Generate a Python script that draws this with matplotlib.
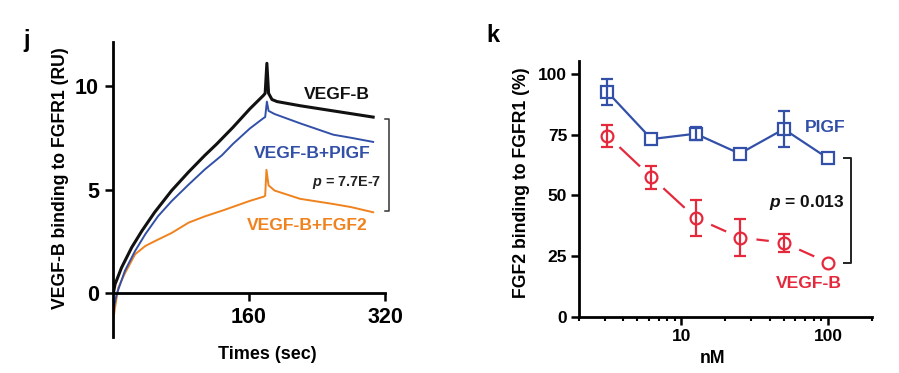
import matplotlib
matplotlib.use("Agg")
import matplotlib.pyplot as plt
import numpy as np

plt.rcParams['font.family'] = ['Liberation Sans', 'DejaVu Sans']
plt.rcParams['font.weight'] = 'bold'
plt.rcParams['mathtext.fontset'] = 'custom'
plt.rcParams['mathtext.rm'] = 'Liberation Sans'
plt.rcParams['mathtext.it'] = 'Liberation Sans:italic'
plt.rcParams['mathtext.bf'] = 'Liberation Sans:bold'
plt.rcParams['mathtext.bfit'] = 'Liberation Sans:italic:bold'

# panel j: SPR sensorgrams (time in sec, response in RU)
t_vegfb = [0, 2.4, 10, 22, 34, 49, 69, 89, 108, 122, 141, 161, 177, 179, 181, 183, 187, 193, 220, 259, 306]
ru_vegfb = [-0.1, 0.42, 1.22, 2.2, 3.0, 3.9, 4.95, 5.85, 6.65, 7.2, 8.0, 8.9, 9.55, 9.65, 11.1, 9.65, 9.35, 9.25, 9.05, 8.8, 8.5]

t_pigf = [0, 2, 4.4, 14, 26, 38, 53, 69, 89, 108, 128, 141, 161, 177, 179, 181, 183, 190, 220, 259, 280, 306]
ru_pigf = [-1.05, -0.5, -0.05, 1.07, 2.03, 2.84, 3.71, 4.44, 5.24, 5.97, 6.65, 7.2, 7.95, 8.45, 8.5, 9.25, 8.8, 8.65, 8.2, 7.65, 7.5, 7.3]

t_fgf2 = [0, 2.4, 6.3, 14, 26, 38, 49, 69, 89, 108, 130, 161, 177, 179, 180.5, 183, 190, 220, 259, 280, 306]
ru_fgf2 = [-1.4, -0.7, 0.26, 0.95, 1.87, 2.27, 2.5, 2.9, 3.4, 3.7, 4.0, 4.45, 4.65, 4.7, 5.95, 5.2, 4.95, 4.55, 4.3, 4.15, 3.9]

# panel k: competition binding (0 = error bar hidden behind the marker)
conc = [3.125, 6.25, 12.5, 25, 50, 100]
pigf_mean = [92.6, 73.2, 75.4, 67.2, 77.3, 65.3]
pigf_err = [5.5, 0, 2.6, 0, 7.4, 0]
vegfb_mean = [74.6, 57.5, 40.8, 32.7, 30.6, 22.4]
vegfb_err = [4.5, 4.8, 7.4, 7.6, 3.7, 0]

black = '#111111'
blue = '#3350A8'
orange = '#F0821E'
red = '#E5293D'

fig = plt.figure(figsize=(8.99, 3.73), dpi=100)

# ---------- panel j ----------
ax1 = fig.add_axes([0.1257, 0.0965, 0.3026, 0.7909])
ax1.plot(t_fgf2, ru_fgf2, color=orange, lw=1.4)
ax1.plot(t_pigf, ru_pigf, color=blue, lw=1.4)
ax1.plot(t_vegfb, ru_vegfb, color=black, lw=2.2)
ax1.set_xlim(0, 320)
ax1.set_ylim(-2.13, 12.13)
ax1.spines['top'].set_visible(False)
ax1.spines['right'].set_visible(False)
ax1.spines['bottom'].set_position(('data', 0))
ax1.spines['bottom'].set_bounds(0, 320)
for s in ['left', 'bottom']:
    ax1.spines[s].set_linewidth(2)
ax1.set_xticks([160, 320])
ax1.set_yticks([0, 5, 10])
ax1.tick_params(direction='out', length=6, width=1.8, labelsize=15.5, pad=4)
ax1.set_ylabel('VEGF-B binding to FGFR1 (RU)', fontsize=12.7, fontweight='bold')
ax1.yaxis.set_label_coords(-0.16, 0.54)
ax1.set_xlabel('Times (sec)', fontsize=13, fontweight='bold')
ax1.xaxis.set_label_coords(0.566, -0.03)

ax1.text(263, 9.57, 'VEGF-B', color=black, fontsize=12.6, ha='center', va='center')
ax1.text(234, 6.76, 'VEGF-B+PIGF', color=blue, fontsize=12.6, ha='center', va='center')
ax1.text(229, 3.28, 'VEGF-B+FGF2', color=orange, fontsize=12.6, ha='center', va='center')
ax1.text(316, 5.36, r'$\bfit{p}$ = 7.7E-7', color='#222222', fontsize=10.4, ha='right', va='center')
ax1.plot([320, 325, 325, 320], [8.4, 8.4, 3.96, 3.96], color='#333333', lw=1.1, clip_on=False)

# ---------- panel k ----------
ax2 = fig.add_axes([0.644, 0.150, 0.326, 0.6864])
ax2.set_xscale('log')


def error_bars(ax, x, y, err, color, z):
    keep = [i for i, e in enumerate(err) if e > 0]
    ax.errorbar([x[i] for i in keep], [y[i] for i in keep], yerr=[err[i] for i in keep],
                fmt='none', ecolor=color, elinewidth=1.6, capsize=4, capthick=1.6, zorder=z)


ax2.plot(conc, vegfb_mean, color=red, lw=1.6, zorder=1)
ax2.plot(conc, vegfb_mean, linestyle='none', marker='o', ms=22, mfc='white', mec='white', zorder=2)
ax2.plot(conc, vegfb_mean, linestyle='none', marker='o', ms=8.5, mfc='white', mec=red, mew=1.6, zorder=3)
error_bars(ax2, conc, vegfb_mean, vegfb_err, red, 4)
ax2.plot(conc, pigf_mean, color=blue, lw=1.6, marker='s', ms=8.5, mfc='white', mec=blue, mew=1.6, zorder=5)
error_bars(ax2, conc, pigf_mean, pigf_err, blue, 6)
ax2.set_xlim(2, 200)
ax2.set_ylim(0, 105.3)
ax2.spines['top'].set_visible(False)
ax2.spines['right'].set_visible(False)
for s in ['left', 'bottom']:
    ax2.spines[s].set_linewidth(2)
ax2.set_yticks([0, 25, 50, 75, 100])
ax2.set_xticks([10, 100])
ax2.set_xticklabels(['10', '100'])
ax2.tick_params(which='major', direction='out', length=5.5, width=1.8, labelsize=12.5, pad=3)
ax2.tick_params(which='minor', direction='out', length=3, width=1.5)
ax2.set_ylabel('FGF2 binding to FGFR1 (%)', fontsize=12.7, fontweight='bold')
ax2.yaxis.set_label_coords(-0.167, 0.523)
ax2.set_xlabel('nM', fontsize=12.7, fontweight='bold')
ax2.xaxis.set_label_coords(0.457, -0.129)

ax2.text(95.8, 77.8, 'PIGF', color=blue, fontsize=12.6, ha='center', va='center')
ax2.text(74.5, 13.6, 'VEGF-B', color=red, fontsize=12.6, ha='center', va='center')
ax2.text(129, 47.3, r'$\bfit{p}$ = 0.013', color=black, fontsize=12.5, ha='right', va='center')
ax2.plot([129, 144, 144, 129], [65.4, 65.4, 22.2, 22.2], color='#222222', lw=1.4, clip_on=False)

fig.text(27 / 899, 1 - 40 / 373, 'j', fontsize=17, fontweight='bold', ha='center', va='center')
fig.text(493 / 899, 1 - 35 / 373, 'k', fontsize=17, fontweight='bold', ha='center', va='center')

fig.savefig('out.png', dpi=100)
